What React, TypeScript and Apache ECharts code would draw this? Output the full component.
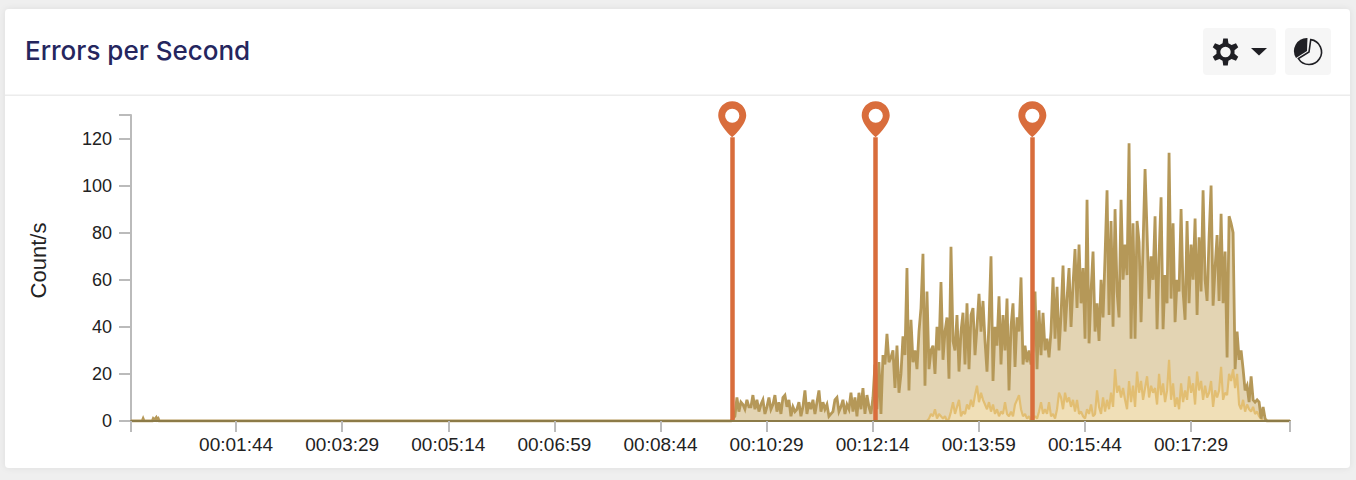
import React, { useEffect, useRef } from "react";
import * as echarts from "echarts";

const title = "Errors per Second";
const yName = "Count/s";
const tickSeconds = [104, 209, 314, 419, 524, 629, 734, 839, 944, 1049];
const axisEnd = 1147;
const yTicks = [0, 20, 40, 60, 80, 100, 120, 130];
const markerSeconds = [595, 737, 892];
const markerTopValue = 120.5;

const earlyTimes = [0, 11, 12, 13, 21, 22, 23, 24, 25, 26, 27, 28, 593];
const earlyCounts = [0, 0, 1, 0, 0, 1, 0.5, 1, 1.5, 0.5, 1, 0, 0];

const sampleStart = 593.7;
const sampleStep = 1.98;
const lowerOffset = 98;

const totalCounts = [
  0, 1, 2, 10, 4, 8, 7, 5, 9, 6,
  6, 11, 5, 9, 4, 7, 9, 3, 6, 10,
  5, 7, 11, 4, 8, 3, 10, 11, 6, 9,
  2, 6, 4, 5, 8, 2, 6, 13, 3, 8,
  5, 9, 3, 8, 13, 4, 8, 5, 7, 2,
  3, 4, 9, 10, 4, 6, 9, 3, 7, 5,
  12, 4, 10, 2, 12, 5, 14, 3, 11, 6,
  3, 10, 24, 5, 25, 3, 28, 24, 37, 25,
  27, 30, 14, 32, 12, 20, 36, 28, 65, 13,
  43, 25, 30, 22, 38, 48, 71, 15, 55, 22,
  30, 32, 20, 40, 30, 59, 26, 38, 44, 18,
  74, 34, 30, 45, 21, 38, 46, 24, 50, 22,
  45, 48, 28, 40, 54, 38, 51, 34, 21, 42,
  70, 17, 40, 32, 53, 24, 45, 30, 52, 13,
  40, 50, 23, 44, 38, 61, 24, 32, 25, 30,
  24, 30, 55, 22, 47, 28, 46, 30, 35, 27,
  38, 61, 35, 57, 30, 45, 66, 38, 52, 65,
  40, 58, 73, 48, 75, 50, 65, 35, 94, 33,
  55, 72, 38, 50, 34, 60, 44, 70, 98, 45,
  85, 40, 90, 55, 44, 94, 60, 75, 62, 118,
  35, 84, 35, 85, 76, 42, 75, 107, 80, 52,
  70, 60, 87, 39, 70, 95, 39, 62, 50, 114,
  52, 84, 42, 60, 55, 90, 55, 43, 85, 50,
  75, 60, 86, 45, 78, 55, 98, 60, 51, 78,
  100, 49, 65, 79, 51, 88, 50, 72, 27, 87,
  84, 80, 22, 38, 26, 30, 22, 13, 15, 8,
  19, 9, 8, 9, 8, 1, 6, 1, 0,
];

const lowerCounts = [
  0, 1, 3, 2, 5, 1, 3, 2, 1, 2,
  0, 1, 4, 8, 3, 6, 9, 2, 4, 3,
  7, 5, 9, 6, 11, 15, 8, 12, 9, 7,
  5, 8, 4, 7, 3, 5, 2, 4, 3, 8,
  3, 2, 4, 2, 7, 9, 11, 5, 2, 3,
  1, 2, 0, 1, 2, 1, 4, 8, 3, 5,
  3, 8, 2, 3, 1, 5, 12, 10, 5, 12,
  8, 10, 6, 9, 4, 9, 3, 4, 2, 1,
  5, 3, 7, 2, 3, 13, 6, 3, 10, 4,
  9, 5, 12, 6, 22, 12, 15, 10, 14, 9,
  5, 17, 8, 15, 6, 21, 12, 17, 9, 14,
  19, 10, 15, 12, 14, 7, 20, 11, 16, 8,
  13, 26, 9, 16, 6, 10, 5, 16, 8, 13,
  9, 19, 12, 16, 7, 21, 13, 17, 9, 15,
  10, 12, 17, 6, 13, 10, 13, 23, 9, 12,
  11, 20, 17, 22, 14, 20, 7, 5, 9, 4,
  7, 5, 4, 6, 3, 4, 2, 1, 0, 0,
];

function clock(s: number) {
  const p = (n: number) => String(Math.floor(n)).padStart(2, "0");
  return `${p(s / 3600)}:${p((s % 3600) / 60)}:${p(s % 60)}`;
}

const pinPath =
  "path://M14 0C6.3 0 0 6.3 0 14C0 24 14 36 14 36C14 36 28 24 28 14C28 6.3 21.7 0 14 0ZM14 7.5A7 7 0 1 1 14 21.5A7 7 0 1 1 14 7.5Z";

function gearPath() {
  const teeth = 6;
  const pts: string[] = [];
  for (let i = 0; i < teeth; i++) {
    const a = (i / teeth) * Math.PI * 2 - Math.PI / 2;
    const w = Math.PI / teeth;
    const seq: [number, number][] = [
      [9.2, a - w * 0.62],
      [13.6, a - w * 0.32],
      [13.6, a + w * 0.32],
      [9.2, a + w * 0.62],
    ];
    for (const [r, t] of seq) pts.push(`${(Math.cos(t) * r).toFixed(2)} ${(Math.sin(t) * r).toFixed(2)}`);
  }
  const hole = "M0 -5.2A5.2 5.2 0 1 0 0 5.2A5.2 5.2 0 1 0 0 -5.2Z";
  return `M${pts.join("L")}Z${hole}`;
}
echarts.graphic.registerShape("gearIcon", echarts.graphic.extendPath(gearPath(), {}) as any);

export default function App() {
  const ref = useRef<HTMLDivElement>(null);
  useEffect(() => {
    const chart = echarts.init(ref.current!, undefined, { renderer: "svg" });
    const early = earlyTimes.map((t, i) => [t, earlyCounts[i]]);
    const total = [
      ...early,
      ...totalCounts.map((v, i) => [sampleStart + i * sampleStep, v]),
      [axisEnd, 0],
    ];
    const lower = [
      [0, 0],
      ...lowerCounts.map((v, i) => [sampleStart + (lowerOffset + i) * sampleStep, v]),
      [axisEnd, 0],
    ];
    const markColor = "#d96d3c";
    const deg = Math.PI / 180;
    chart.setOption({
      animation: false,
      backgroundColor: "#efefef",
      title: {
        text: title,
        left: 20,
        top: 32,
        textStyle: { fontFamily: "Inter", fontSize: 26, fontWeight: 500, color: "#25265e" },
      },
      graphic: [
        {
          type: "rect",
          z: -10,
          shape: { x: 5, y: 9, width: 1345, height: 459, r: 4 },
          style: { fill: "#fff", shadowBlur: 6, shadowColor: "rgba(0,0,0,0.08)" },
        },
        { type: "rect", z: -9, shape: { x: 5, y: 94.5, width: 1345, height: 1.5 }, style: { fill: "#ececec" } },
        { type: "rect", z: -9, shape: { x: 1203, y: 28, width: 73, height: 47, r: 4 }, style: { fill: "#f6f6f6" } },
        { type: "rect", z: -9, shape: { x: 1285, y: 28, width: 46, height: 47, r: 4 }, style: { fill: "#f6f6f6" } },
        { type: "gearIcon", x: 1225.5, y: 52, style: { fill: "#1f1f24" } },
        {
          type: "polygon",
          shape: { points: [[1251, 48], [1267, 48], [1259, 55.5]] },
          style: { fill: "#1f1f24" },
        },
        {
          type: "sector",
          shape: { cx: 1307, cy: 51, r: 13, r0: 0, startAngle: 148 * deg, endAngle: 272 * deg },
          style: { fill: "#1f1f24" },
        },
        {
          type: "sector",
          shape: { cx: 1309, cy: 52, r: 12.5, r0: 0, startAngle: -82 * deg, endAngle: 148 * deg },
          style: { fill: "none", stroke: "#1f1f24", lineWidth: 1.6 },
        },
        {
          type: "text",
          x: 38,
          y: 260.5,
          rotation: Math.PI / 2,
          style: {
            text: yName,
            fill: "#222",
            font: '22px "Liberation Sans"',
            align: "center",
            verticalAlign: "middle",
          },
        },
      ],
      grid: { left: 131, right: 66, top: 115, bottom: 59 },
      xAxis: {
        type: "value",
        min: 0,
        max: axisEnd,
        z: 5,
        splitLine: { show: false },
        axisLine: { onZero: false, lineStyle: { color: "#8c7b48", width: 2 } },
        axisTick: {
          length: 11,
          lineStyle: { color: "#bbbbbb", width: 2 },
          customValues: [0, ...tickSeconds, axisEnd],
        },
        axisLabel: {
          customValues: tickSeconds,
          formatter: (v: number) => clock(v),
          margin: 14,
          color: "#222",
          fontFamily: "Liberation Sans",
          fontSize: 19,
        },
      },
      yAxis: {
        type: "value",
        min: 0,
        max: 130,
        interval: 20,
        splitLine: { show: false },
        axisLine: { show: true, lineStyle: { color: "#bbbbbb", width: 2 } },
        axisTick: { length: 12, lineStyle: { color: "#bbbbbb", width: 2 }, customValues: yTicks },
        axisLabel: {
          margin: 19,
          color: "#222",
          fontFamily: "Liberation Sans",
          fontSize: 18,
          customValues: yTicks.slice(0, -1),
        },
      },
      series: [
        {
          type: "line",
          name: "Total area",
          data: total,
          symbol: "none",
          lineStyle: { width: 0 },
          areaStyle: { color: "#e3d4b3", opacity: 1 },
          z: 2,
        },
        {
          type: "line",
          name: "Lower",
          data: lower,
          symbol: "none",
          lineStyle: { color: "#e2be72", width: 2.2 },
          areaStyle: { color: "#f0dfb7", opacity: 1 },
          z: 3,
        },
        {
          type: "line",
          name: "Total",
          data: total,
          symbol: "none",
          lineStyle: { color: "#b59858", width: 2.8, join: "miter" },
          z: 4,
          markLine: {
            silent: true,
            symbol: "none",
            label: { show: false },
            lineStyle: { color: markColor, width: 4.5, type: "solid", opacity: 1 },
            data: markerSeconds.map((t) => [
              { coord: [t, 0] },
              { coord: [t, markerTopValue] },
            ]),
          },
          markPoint: {
            silent: true,
            symbol: pinPath,
            symbolSize: [28, 36],
            symbolOffset: [0, "-50%"],
            label: { show: false },
            itemStyle: { color: markColor },
            data: markerSeconds.map((t) => ({ coord: [t, markerTopValue] })),
          },
        },
      ],
    });
    return () => chart.dispose();
  }, []);
  return <div ref={ref} style={{ position: "fixed", left: 0, top: 0, width: 1356, height: 480 }} />;
}
